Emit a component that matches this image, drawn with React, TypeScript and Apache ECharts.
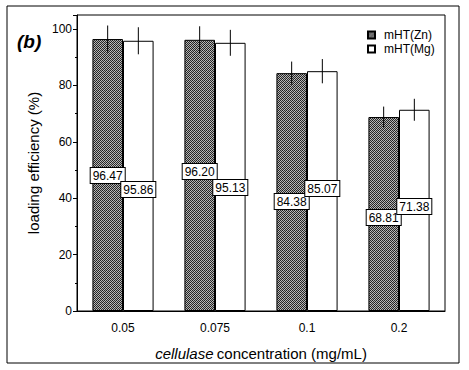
import React, { useEffect, useRef } from "react";
import * as echarts from "echarts";

const categories = ["0.05", "0.075", "0.1", "0.2"];
const znValues = [96.47, 96.2, 84.38, 68.81];
const mgValues = [95.86, 95.13, 85.07, 71.38];
const znErrors = [4.8, 4.8, 4.1, 3.7];
const mgErrors = [4.8, 4.6, 4.3, 3.9];
const yTicks = [0, 20, 40, 60, 80, 100];

// label placement (distance from bar bottom, px) – styling only
const znLabelDist = [128, 132, 102, 86];
const mgLabelDist = [114, 116, 115, 97];

const FONT = "Liberation Sans, Arial, sans-serif";

function makePattern(): string {
  const c = document.createElement("canvas");
  c.width = 4;
  c.height = 4;
  const ctx = c.getContext("2d")!;
  const cols = [
    ["#1e1e1e", "#b8b8b8", "#2a2a2a", "#a8a8a8"],
    ["#c0c0c0", "#303030", "#b0b0b0", "#242424"],
    ["#282828", "#a0a0a0", "#1a1a1a", "#bcbcbc"],
    ["#acacac", "#262626", "#c4c4c4", "#2e2e2e"],
  ];
  for (let y = 0; y < 4; y++)
    for (let x = 0; x < 4; x++) {
      ctx.fillStyle = cols[y][x];
      ctx.fillRect(x, y, 1, 1);
    }
  return c.toDataURL();
}

export default function App() {
  const ref = useRef<HTMLDivElement>(null);
  useEffect(() => {
    document.body.style.margin = "0";
    const chart = echarts.init(ref.current!, null, { renderer: "svg" });
    const pattern = { image: makePattern(), repeat: "repeat" as const };

    const labelBase = {
      show: true,
      position: "insideBottom" as const,
      color: "#000",
      fontFamily: FONT,
      fontSize: 12,
      backgroundColor: "#fff",
      borderColor: "#000",
      borderWidth: 1,
      padding: [2, 2, 1, 2],
      formatter: (p: any) => p.value.toFixed(2),
    };

    const errSeries = (vals: number[], errs: number[], side: number, name: string) => ({
      type: "custom" as const,
      name: name + "-err",
      z: 5,
      silent: true,
      data: vals.map((v, i) => [i, v, errs[i]]),
      renderItem: (params: any, api: any) => {
        const idx = api.value(0);
        const v = api.value(1);
        const e = api.value(2);
        const bw = api.size([1, 0])[0];
        const top = api.coord([idx, v + e]);
        const bot = api.coord([idx, v - e]);
        const x = top[0] + (side * bw) / 6;
        return {
          type: "line",
          shape: { x1: x, y1: top[1], x2: x, y2: bot[1] },
          style: { stroke: "#000", lineWidth: 1 },
        };
      },
    });

    chart.setOption({
      animation: false,
      grid: {
        left: 77,
        top: 15,
        right: 24,
        bottom: 59,
        show: true,
        borderColor: "#000",
        borderWidth: 1,
        backgroundColor: "transparent",
      },
      legend: {
        left: 362,
        top: 24,
        orient: "vertical",
        itemWidth: 7,
        itemHeight: 7,
        itemGap: 2,
        textStyle: { fontFamily: FONT, fontSize: 12, color: "#000", padding: [0, 0, 0, 4] },
        data: [
          { name: "mHT(Zn)", icon: "rect" },
          { name: "mHT(Mg)", icon: "rect" },
        ],
      },
      xAxis: {
        type: "category",
        data: categories,
        axisLine: { lineStyle: { color: "#000" } },
        axisTick: { show: false },
        axisLabel: { color: "#000", fontFamily: FONT, fontSize: 12, margin: 11 },
        name: "{i|cellulase} {n|concentration (mg/mL)}",
        nameLocation: "middle",
        nameGap: 35,
        nameTextStyle: {
          rich: {
            i: { fontStyle: "italic", fontFamily: FONT, fontSize: 15, color: "#000" },
            n: { fontFamily: FONT, fontSize: 15, color: "#000" },
          },
        },
      },
      yAxis: {
        type: "value",
        min: 0,
        max: 105,
        interval: 20,
        axisLine: { show: true, lineStyle: { color: "#000" } },
        axisTick: { show: true, inside: false, length: 4, lineStyle: { color: "#000" } },
        minorTick: { show: true, splitNumber: 2, length: 2, lineStyle: { color: "#000" } },
        splitLine: { show: false },
        axisLabel: {
          color: "#000",
          fontFamily: FONT,
          fontSize: 12,
          margin: 5,
          showMaxLabel: false,
          formatter: (v: number) => (yTicks.includes(v) ? String(v) : ""),
        },
        name: "loading efficiency (%)",
        nameLocation: "middle",
        nameGap: 34,
        nameTextStyle: { fontFamily: FONT, fontSize: 15, color: "#000" },
      },
      series: [
        {
          name: "mHT(Zn)",
          type: "bar",
          barGap: "0%",
          barCategoryGap: "33.5%",
          itemStyle: { color: pattern, borderColor: "#000", borderWidth: 1 },
          data: znValues.map((v, i) => ({
            value: v,
            label: { ...labelBase, distance: znLabelDist[i] },
          })),
          z: 2,
        },
        {
          name: "mHT(Mg)",
          type: "bar",
          itemStyle: { color: "#fff", borderColor: "#000", borderWidth: 1 },
          data: mgValues.map((v, i) => ({
            value: v,
            label: { ...labelBase, distance: mgLabelDist[i] },
          })),
          z: 2,
        },
        errSeries(znValues, znErrors, -1, "mHT(Zn)"),
        errSeries(mgValues, mgErrors, 1, "mHT(Mg)"),
      ],
      graphic: [
        {
          type: "rect",
          shape: { x: 7, y: 6, width: 452, height: 357 },
          style: { fill: "none", stroke: "#000", lineWidth: 1 },
          silent: true,
        },
        {
          type: "text",
          left: 17,
          top: 32,
          style: {
            text: "(b)",
            font: `italic bold 19px ${FONT}`,
            fill: "#000",
          },
        },
      ],
    });
    return () => chart.dispose();
  }, []);
  return <div ref={ref} style={{ width: 469, height: 370 }} />;
}
